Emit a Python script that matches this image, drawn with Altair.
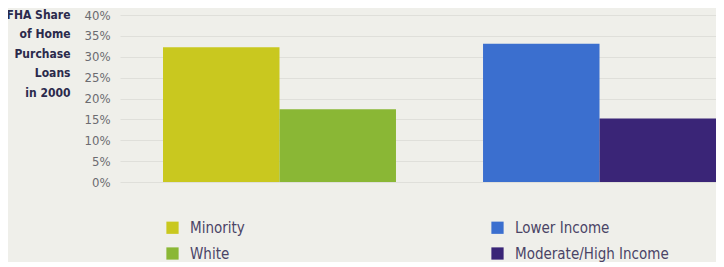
import altair as alt
import pandas as pd

groups = ["Race", "Race", "Income", "Income"]
subs = ["a", "b", "a", "b"]
categories = ["Minority", "White", "Lower Income", "Moderate/High Income"]
values = [32.3, 17.4, 33.1, 15.2]
colors = ["#c9c81f", "#8ab735", "#3b6fcf", "#3a2577"]
y_ticks = [0, 5, 10, 15, 20, 25, 30, 35, 40]
title_lines = ["FHA Share", "of Home", "Purchase", "Loans", "in 2000"]

FONT = "DejaVu Sans Condensed, Roboto, sans-serif"

df = pd.DataFrame({"group": groups, "sub": subs, "category": categories, "value": values})

chart = alt.Chart(df).mark_bar().encode(
    x=alt.X("group:N", sort=["Race", "Income"],
            scale=alt.Scale(domain=["Race", "Income"], paddingInner=0.272, paddingOuter=0.0672, align=1),
            axis=None),
    xOffset=alt.XOffset("sub:N", scale=alt.Scale(domain=["a", "b"], paddingInner=0, paddingOuter=0)),
    y=alt.Y("value:Q", scale=alt.Scale(domain=[0, 40], nice=False, zero=True),
            axis=alt.Axis(values=y_ticks, labelExpr="datum.value + '%'", title=title_lines,
                          titleAngle=0, titleAlign="right", titleBaseline="middle",
                          titleX=-50, titleY=-1, titleLineHeight=19.5,
                          titleFont=FONT, titleFontSize=12, titleFontWeight="bold",
                          titleColor="#2b2a4c",
                          labelFont=FONT, labelFontSize=13, labelColor="#6b6b70",
                          labelPadding=10, ticks=False, domain=False,
                          grid=True, gridColor="#dfdfda", gridWidth=1)),
    color=alt.Color("category:N", scale=alt.Scale(domain=categories, range=colors),
                    legend=alt.Legend(title=None, orient="none", legendX=45, legendY=205,
                                      columns=2, columnPadding=245, rowPadding=10,
                                      symbolType="square", symbolSize=150, symbolStrokeWidth=0,
                                      symbolOpacity=1,
                                      labelFont=FONT, labelFontSize=15,
                                      labelColor="#4a4466", labelOffset=10, labelLimit=300)),
).properties(
    width=596, height=167,
    autosize=alt.AutoSizeParams(type="none"),
    padding={"left": 112, "top": 7, "right": 0, "bottom": 80},
    background="#efefea",
).configure_view(stroke=None)

chart.save("out.html", embed_options={"renderer": "svg", "actions": False})
